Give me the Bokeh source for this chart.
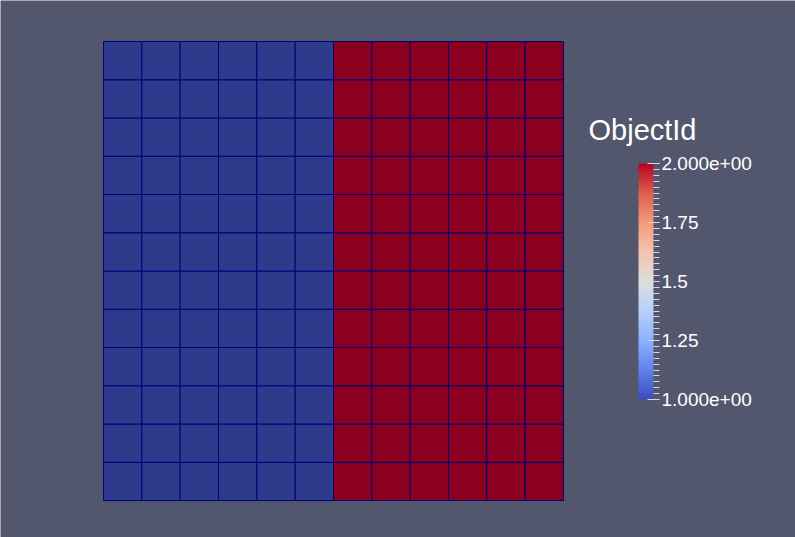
import numpy as np
from bokeh.plotting import figure
from bokeh.models import (ColumnDataSource, LinearColorMapper, ColorBar, FixedTicker, Label)
from bokeh.embed import file_html
from bokeh.resources import INLINE

# ---- data ----
object_id_by_column = [1, 1, 1, 1, 1, 1, 2, 2, 2, 2, 2, 2]
n_rows = 12
cell_colors = {1: "#2e3a8c", 2: "#8b001e"}
cbar_ticks = [1.0, 1.25, 1.5, 1.75, 2.0]
cbar_labels = ["1.000e+00", "1.25", "1.5", "1.75", "2.000e+00"]
cbar_minor = [round(1.0 + 0.025 * i, 3) for i in range(41)]
cbar_title = "ObjectId"

# Cool-to-warm control colours
cw_pos = [0.0, 0.125, 0.25, 0.375, 0.5, 0.625, 0.75, 0.875, 1.0]
cw_rgb = [(59, 76, 192), (98, 130, 234), (141, 176, 254), (184, 208, 249),
          (221, 221, 221), (245, 196, 173), (244, 154, 123), (222, 96, 77),
          (180, 4, 38)]

BG = "#52576e"

xs, ys, cs, ids = [], [], [], []
for c, oid in enumerate(object_id_by_column):
    for r in range(n_rows):
        xs.append(c + 0.5)
        ys.append(r + 0.5)
        ids.append(oid)
        cs.append(cell_colors[oid])
src = ColumnDataSource(dict(x=xs, y=ys, color=cs, oid=ids))

W, H = 795, 537
# grid spans pixels x 103..563, y 41..500
sx = 460 / 12.0
sy = 459 / 12.0
x0 = -103 / sx
x1 = (W - 103) / sx
y1 = 500 / sy
y0 = -(H - 500) / sy

p = figure(width=W, height=H, x_range=(x0, x1), y_range=(y0, y1),
           output_backend="svg", toolbar_location=None,
           x_axis_location=None, y_axis_location=None, min_border=0)
p.background_fill_color = BG
p.border_fill_color = BG
p.outline_line_color = None
p.xgrid.visible = False
p.ygrid.visible = False

p.rect(x="x", y="y", width=1, height=1, source=src, fill_color="color",
       line_color="#00007a", line_width=1)

# palette
t = np.linspace(0, 1, 256)
pal = []
for v in t:
    r = np.interp(v, cw_pos, [c[0] for c in cw_rgb])
    g = np.interp(v, cw_pos, [c[1] for c in cw_rgb])
    b = np.interp(v, cw_pos, [c[2] for c in cw_rgb])
    pal.append("#%02x%02x%02x" % (int(round(r)), int(round(g)), int(round(b))))

mapper = LinearColorMapper(palette=pal, low=1.0, high=2.0)
ticker = FixedTicker(ticks=cbar_ticks, minor_ticks=cbar_minor)
cb = ColorBar(color_mapper=mapper, ticker=ticker,
              major_label_overrides={t_: l for t_, l in zip(cbar_ticks, cbar_labels)},
              orientation="vertical", width=15, height=236,
              location=(638, 537 - 399), padding=0, margin=0,
              background_fill_alpha=0, border_line_color=None, bar_line_color=None,
              major_tick_in=6, major_tick_out=6, minor_tick_in=0, minor_tick_out=6,
              major_tick_line_color="#d8d8d8", minor_tick_line_color="#d8d8d8",
              major_label_text_color="white", major_label_text_font="Liberation Sans",
              major_label_text_font_size="19px", label_standoff=2)
p.add_layout(cb, "center")

p.add_layout(Label(x=588, y=537 - 129, x_units="screen", y_units="screen",
                   text=cbar_title, text_color="white", text_font="Liberation Sans",
                   text_font_size="29px", text_baseline="alphabetic"))

open("out.html", "w").write(file_html(p, INLINE))
